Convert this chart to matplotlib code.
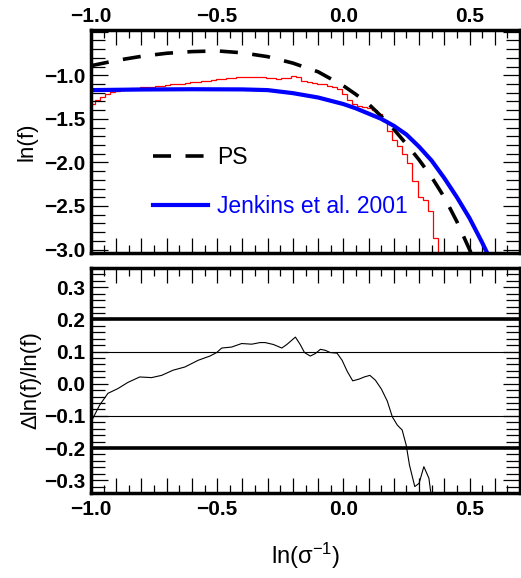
import numpy as np
import matplotlib
matplotlib.use('Agg')
import matplotlib.pyplot as plt
from matplotlib.ticker import MultipleLocator, FuncFormatter

plt.rcParams['font.family'] = ['Liberation Sans', 'DejaVu Sans']
plt.rcParams['mathtext.fontset'] = 'custom'
plt.rcParams['mathtext.rm'] = 'Liberation Sans'

# PS curve (dashed)
ps_x = [-1.0, -0.9, -0.8, -0.7, -0.6, -0.5, -0.4, -0.3, -0.2, -0.1, 0.0, 0.05,
        0.1, 0.15, 0.2, 0.25, 0.3, 0.35, 0.4, 0.45, 0.5, 0.52]
ps_y = [-0.89, -0.83, -0.782, -0.747, -0.728, -0.72, -0.742, -0.786, -0.86, -0.96,
        -1.12, -1.22, -1.33, -1.47, -1.62, -1.79, -1.97, -2.17, -2.40, -2.68, -3.0, -3.14]

# Jenkins et al. 2001
jen_x = [-1.0, -0.8, -0.6, -0.4, -0.3, -0.2, -0.1, 0.0, 0.05, 0.1, 0.15, 0.2,
         0.25, 0.3, 0.35, 0.4, 0.45, 0.5, 0.55, 0.58]
jen_y = [-1.17, -1.163, -1.16, -1.162, -1.17, -1.205, -1.255, -1.33, -1.38, -1.44,
         -1.50, -1.58, -1.68, -1.82, -1.98, -2.18, -2.40, -2.64, -2.92, -3.1]

# simulation histogram (red steps), bins of 0.02
hist_edges = np.linspace(-1.006, 0.374, 70)
hist_vals = [-1.325, -1.28, -1.245, -1.215, -1.195, -1.18, -1.17, -1.16, -1.15, -1.145,
             -1.14, -1.135, -1.13, -1.125, -1.12, -1.11, -1.105, -1.10, -1.095, -1.09,
             -1.08, -1.075, -1.065, -1.06, -1.05, -1.045, -1.04, -1.035, -1.03, -1.025,
             -1.02, -1.018, -1.016, -1.018, -1.02, -1.027, -1.035, -1.04, -1.035, -1.03,
             -1.012, -1.025, -1.066, -1.075, -1.085, -1.095, -1.10, -1.12, -1.14, -1.16,
             -1.22, -1.284, -1.334, -1.353, -1.36, -1.37, -1.40, -1.44, -1.52, -1.64,
             -1.74, -1.81, -1.90, -2.01, -2.21, -2.40, -2.43, -2.56, -2.87]

# residual panel
ratio_x = [-1.0, -0.966, -0.933, -0.893, -0.854, -0.807, -0.76, -0.72, -0.675, -0.628,
           -0.575, -0.529, -0.502, -0.482, -0.443, -0.403, -0.363, -0.33, -0.31, -0.277,
           -0.244, -0.224, -0.19, -0.171, -0.154, -0.131, -0.111, -0.091, -0.072, -0.052,
           -0.025, -0.005, 0.015, 0.037, 0.061, 0.083, 0.105, 0.127, 0.151, 0.174,
           0.194, 0.214, 0.233, 0.249, 0.262, 0.283, 0.30, 0.319, 0.339, 0.35]
ratio_y = [-0.119, -0.067, -0.03, -0.015, 0.004, 0.021, 0.019, 0.026, 0.042, 0.052,
           0.073, 0.086, 0.097, 0.111, 0.114, 0.125, 0.123, 0.128, 0.128, 0.122,
           0.111, 0.122, 0.145, 0.122, 0.097, 0.086, 0.094, 0.107, 0.104, 0.097,
           0.095, 0.073, 0.039, 0.009, 0.014, 0.021, 0.026, 0.011, -0.017, -0.054,
           -0.103, -0.129, -0.144, -0.191, -0.253, -0.32, -0.31, -0.258, -0.294, -0.36]
thick_levels = [0.2, -0.2]
thin_levels = [0.1, -0.1]


def fmt_x(v, pos):
    # 0.5 단위에만 라벨
    if abs(v * 2 - round(v * 2)) > 1e-6:
        return ''
    return f'{v:.1f}'.replace('-', '\u2212')


def fmt_y_top(v, pos):
    if v > -0.75 or abs(v * 2 - round(v * 2)) > 1e-6:
        return ''
    return f'{v:.1f}'.replace('-', '\u2212')


def fmt_y_bot(v, pos):
    if abs(v) < 1e-9:
        v = 0.0
    return f'{v:.1f}'.replace('-', '\u2212')


def style_axes(ax):
    for s in ax.spines.values():
        s.set_linewidth(2.5)
    ax.tick_params(which='both', direction='in', top=True, right=True, width=0.9,
                   labelsize=15)
    ax.tick_params(axis='x', which='major', length=11, pad=5)
    ax.tick_params(axis='x', which='minor', length=6)
    ax.xaxis.set_major_locator(MultipleLocator(0.1))
    ax.xaxis.set_minor_locator(MultipleLocator(0.05))
    ax.xaxis.set_major_formatter(FuncFormatter(fmt_x))


def bold_ticks(ax):
    for lab in ax.get_xticklabels(which='both') + ax.get_yticklabels(which='both'):
        lab.set_fontweight('bold')


fig = plt.figure(figsize=(5.21, 5.78), dpi=100)
ax1 = fig.add_axes([91 / 521, 1 - 253 / 578, 429 / 521, 223 / 578])
ax2 = fig.add_axes([91 / 521, 1 - 493 / 578, 429 / 521, 225 / 578])

# 위 패널
ax1.stairs(hist_vals, hist_edges, baseline=-4, color='red', lw=0.9)
ax1.plot(ps_x, ps_y, color='black', lw=2.6, ls=(0, (5, 4)), label='PS')
ax1.plot(jen_x, jen_y, color='#0000ff', lw=3, label='Jenkins et al. 2001')
ax1.set_xlim(-1.0, 0.7)
ax1.set_ylim(-3.04, -0.48)
ax1.yaxis.set_major_locator(MultipleLocator(0.5))
ax1.yaxis.set_minor_locator(MultipleLocator(0.1))
ax1.yaxis.set_major_formatter(FuncFormatter(fmt_y_top))
style_axes(ax1)
ax1.tick_params(axis='x', which='major', pad=3)
ax1.tick_params(axis='y', which='major', length=12, pad=4)
ax1.tick_params(axis='y', which='minor', length=10)
ax1.tick_params(labeltop=True, labelbottom=False)
ax1.set_ylabel('ln(f)', fontsize=16)
ax1.yaxis.set_label_coords(-0.125, 0.5)
leg = ax1.legend(loc='upper left', bbox_to_anchor=(0.1445, 0.478), frameon=False,
                 fontsize=16.5, handlelength=2.4, handletextpad=0.4, labelspacing=1.1,
                 borderpad=0, borderaxespad=0, labelcolor='linecolor')

# 아래 패널
for lv in thick_levels:
    ax2.axhline(lv, color='black', lw=2.6)
for lv in thin_levels:
    ax2.axhline(lv, color='black', lw=0.8)
ax2.plot(ratio_x, ratio_y, color='black', lw=0.8)
ax2.set_xlim(-1.0, 0.7)
ax2.set_ylim(-0.34, 0.36)
ax2.yaxis.set_major_locator(MultipleLocator(0.1))
ax2.yaxis.set_minor_locator(MultipleLocator(0.02))
ax2.yaxis.set_major_formatter(FuncFormatter(fmt_y_bot))
style_axes(ax2)
ax2.tick_params(axis='y', which='major', length=12, pad=4)
ax2.tick_params(axis='y', which='minor', length=10)
ax2.set_ylabel('\u0394ln(f)/ln(f)', fontsize=16)
ax2.yaxis.set_label_coords(-0.115, 0.5)
ax2.set_xlabel(r'ln($\mathregular{\sigma^{-1}}$)', fontsize=17, labelpad=16)

fig.canvas.draw()
bold_ticks(ax1)
bold_ticks(ax2)

fig.savefig('out.png', dpi=100)
plt.close(fig)
